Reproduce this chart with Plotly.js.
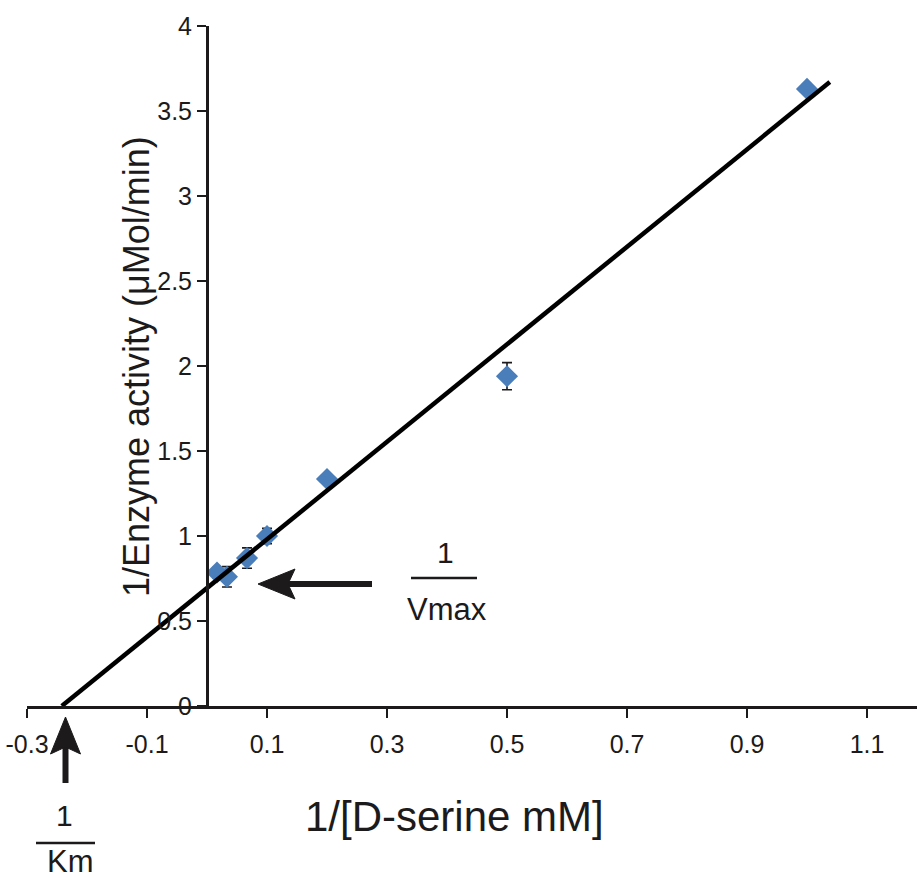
<!DOCTYPE html>
<html>
<head>
<meta charset="utf-8">
<script src="https://cdn.plot.ly/plotly-3.0.1.min.js"></script>
<style>html,body{margin:0;padding:0;background:#fff;}#chart{width:917px;height:881px;}</style>
</head>
<body>
<div id="chart"></div>
<script>
// ---- data ----
const invSerine = [0.0167, 0.0333, 0.0667, 0.1, 0.2, 0.5, 1.0];
const invActivity = [0.785, 0.76, 0.87, 1.0, 1.335, 1.94, 3.63];
const activityErr = [0.03, 0.06, 0.06, 0.045, 0.02, 0.08, 0.01];
const fitX = [-0.242, 1.038];
const fitY = [0, 3.67];
const xTickVals = [-0.3, -0.1, 0.1, 0.3, 0.5, 0.7, 0.9, 1.1];
const xTickText = ['-0.3', '-0.1', '0.1', '0.3', '0.5', '0.7', '0.9', '1.1'];
const xTitle = '1/[D-serine mM]';
const yTitle = '1/Enzyme activity (\u03bcMol/min)';

// ---- layout helpers (pixel -> paper) ----
const W = 917, H = 881, ML = 27, MR = 0, MT = 26, MB = 175;
const PW = W - ML - MR, PH = H - MT - MB;
const px = v => (v - ML) / PW;
const py = v => (H - MB - v) / PH;
const FONT = 'Liberation Sans, Arial, Helvetica, sans-serif';
const INK = '#1c1a1a';

const traces = [
  {
    x: invSerine, y: invActivity, type: 'scatter', mode: 'markers',
    marker: {symbol: 'diamond', size: 17, color: '#4a7ebb'},
    error_y: {type: 'data', array: activityErr, visible: true, color: INK, thickness: 1.6, width: 5},
    hoverinfo: 'x+y', showlegend: false
  },
  {
    x: fitX, y: fitY, type: 'scatter', mode: 'lines',
    line: {color: '#000', width: 4.5}, showlegend: false, hoverinfo: 'skip'
  }
];

function headPath(pts) {
  return 'M' + pts.map(p => px(p[0]) + ',' + py(p[1])).join(' L') + ' Z';
}

const shapes = [
  // Vmax arrow shaft + head
  {type: 'line', xref: 'paper', yref: 'paper', x0: px(286), y0: py(584), x1: px(372), y1: py(584), line: {color: INK, width: 6}},
  {type: 'path', xref: 'paper', yref: 'paper', path: headPath([[258, 584], [295, 569], [288, 584], [295, 599]]), fillcolor: INK, line: {color: INK, width: 1}},
  // Km arrow shaft + head
  {type: 'line', xref: 'paper', yref: 'paper', x0: px(65.5), y0: py(745), x1: px(65.5), y1: py(783), line: {color: INK, width: 6}},
  {type: 'path', xref: 'paper', yref: 'paper', path: headPath([[65.5, 717], [50.5, 754], [65.5, 747], [80.5, 754]]), fillcolor: INK, line: {color: INK, width: 1}},
  // fraction bars
  {type: 'line', xref: 'paper', yref: 'paper', x0: px(411), y0: py(578), x1: px(477), y1: py(578), line: {color: INK, width: 2.5}},
  {type: 'line', xref: 'paper', yref: 'paper', x0: px(36), y0: py(843), x1: px(95), y1: py(843), line: {color: INK, width: 2.5}}
];

const ann = (text, x, y, size, extra) => Object.assign({
  text: text, xref: 'paper', yref: 'paper', x: px(x), y: py(y),
  xanchor: 'center', yanchor: 'middle', showarrow: false,
  font: {family: FONT, size: size, color: INK}
}, extra || {});

const annotations = [
  ann(xTitle, 454, 816, 42),
  ann(yTitle, 136, 367, 36, {textangle: -90}),
  ann('1', 445, 552, 30),
  ann('Vmax', 447, 609, 31),
  ann('1', 64, 815, 30),
  ann('Km', 70, 861, 31)
];

const layout = {
  width: W, height: H,
  margin: {l: ML, r: MR, t: MT, b: MB, pad: 0},
  paper_bgcolor: '#fff', plot_bgcolor: '#fff',
  font: {family: FONT, color: INK},
  showlegend: false,
  xaxis: {
    range: [-0.3, -0.3 + PW / 600], domain: [0, 1],
    tickvals: xTickVals, ticktext: xTickText,
    ticks: 'outside', ticklen: 9, tickwidth: 2.5, tickcolor: INK,
    showline: true, linecolor: INK, linewidth: 3,
    showgrid: false, zeroline: false,
    tickfont: {family: FONT, size: 25, color: INK},
    ticklabelstandoff: 5,
    anchor: 'y', fixedrange: true
  },
  yaxis: {
    range: [0, 4], dtick: 0.5, tick0: 0,
    anchor: 'free', position: 0.3 / (PW / 600),
    ticks: 'outside', ticklen: 9, tickwidth: 2.5, tickcolor: INK,
    showline: true, linecolor: INK, linewidth: 3,
    showgrid: false, zeroline: false,
    tickfont: {family: FONT, size: 25, color: INK},
    fixedrange: true
  },
  shapes: shapes,
  annotations: annotations
};

Plotly.newPlot('chart', traces, layout, {displayModeBar: false, staticPlot: true});
</script>
</body>
</html>
